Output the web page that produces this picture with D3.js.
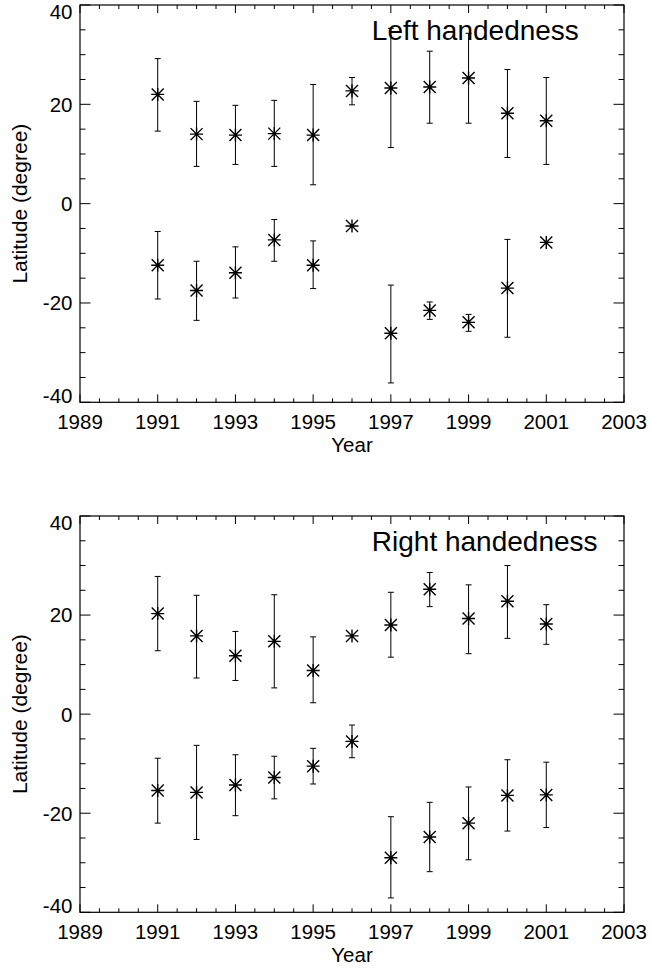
<!DOCTYPE html>
<html>
<head>
<meta charset="utf-8">
<script src="https://cdn.jsdelivr.net/npm/d3@7/dist/d3.min.js"></script>
<style>
  html, body { margin: 0; padding: 0; background: #fff; }
  svg { display: block; }
  text { font-family: "Liberation Sans", Arial, Helvetica, sans-serif; fill: #000; }
</style>
</head>
<body>
<svg id="chart" width="651" height="970"></svg>
<script>
// Observation years
const years = [1991, 1992, 1993, 1994, 1995, 1996, 1997, 1998, 1999, 2000, 2001];

// Left handedness: mean latitude and error-bar limits, northern hemisphere
const leftNorth   = [22.0, 14.0, 13.8, 14.1, 13.8, 22.7, 23.3, 23.5, 25.3, 18.2, 16.7];
const leftNorthHi = [29.2, 20.6, 19.8, 20.8, 24.0, 25.4, 35.3, 30.7, 34.3, 27.0, 25.4];
const leftNorthLo = [14.6,  7.5,  7.9,  7.5,  3.8, 19.9, 11.3, 16.2, 16.2,  9.3,  7.9];
// Left handedness, southern hemisphere
const leftSouth   = [-12.4, -17.5, -13.9,  -7.3, -12.4, -4.5, -26.1, -21.5, -23.9, -17.0, -7.8];
const leftSouthHi = [ -5.6, -11.6,  -8.7,  -3.2,  -7.5, -4.5, -16.4, -19.8, -22.3,  -7.2, -7.8];
const leftSouthLo = [-19.2, -23.5, -19.0, -11.6, -17.1, -4.5, -36.1, -23.3, -25.7, -26.9, -7.8];

// Right handedness, northern hemisphere
const rightNorth   = [20.3, 15.8, 11.8, 14.7,  8.8, 15.8, 18.0, 25.2, 19.3, 22.8, 18.2];
const rightNorthHi = [27.8, 24.0, 16.7, 24.1, 15.6, 15.8, 24.6, 28.6, 26.1, 30.0, 22.1];
const rightNorthLo = [12.8,  7.3,  6.8,  5.3,  2.3, 15.8, 11.5, 21.7, 12.2, 15.3, 14.1];
// Right handedness, southern hemisphere
const rightSouth   = [-15.4, -15.8, -14.3, -12.8, -10.5, -5.5, -29.0, -24.8, -22.0, -16.4, -16.3];
const rightSouthHi = [ -8.9,  -6.3,  -8.2,  -8.5,  -6.9, -2.2, -20.7, -17.8, -14.7,  -9.2,  -9.7];
const rightSouthLo = [-22.0, -25.3, -20.5, -17.1, -14.1, -8.8, -37.1, -31.8, -29.4, -23.6, -22.9];

// Axis ticks and labels
const xDomain = [1989, 2003];
const xMajorTicks = [1989, 1991, 1993, 1995, 1997, 1999, 2001, 2003];
const xMinorStep = 0.5;
const yDomain = [-40, 40];
const yMajorTicks = [-40, -20, 0, 20, 40];
const yMinorStep = 5;
const xTitle = "Year";
const yTitle = "Latitude (degree)";
const panelTitles = ["Left handedness", "Right handedness"];

const svg = d3.select("#chart");

const plotLeft = 80, plotRight = 624;
const panels = [
  { top: 5,   bottom: 402.3, title: panelTitles[0],
    series: [[leftNorth, leftNorthHi, leftNorthLo], [leftSouth, leftSouthHi, leftSouthLo]] },
  { top: 516, bottom: 912.3, title: panelTitles[1],
    series: [[rightNorth, rightNorthHi, rightNorthLo], [rightSouth, rightSouthHi, rightSouthLo]] }
];

const xMinorTicks = d3.range(xDomain[0], xDomain[1] + 1e-9, xMinorStep);
const yMinorTicks = d3.range(yDomain[0], yDomain[1] + 1e-9, yMinorStep);
// plain hyphen-minus for negative labels
const fmt = v => String(v);

panels.forEach(p => {
  const x = d3.scaleLinear().domain(xDomain).range([plotLeft, plotRight]);
  const y = d3.scaleLinear().domain(yDomain).range([p.bottom, p.top]);
  const g = svg.append("g");

  // Tick marks on all four sides, pointing inward
  const tickG = g.append("g").attr("stroke", "#000").attr("stroke-width", 1);
  xMinorTicks.forEach(v => {
    const major = xMajorTicks.includes(v);
    const len = major ? 8 : 4;
    const xx = x(v);
    tickG.append("line").attr("x1", xx).attr("x2", xx).attr("y1", p.bottom).attr("y2", p.bottom - len);
    tickG.append("line").attr("x1", xx).attr("x2", xx).attr("y1", p.top).attr("y2", p.top + len);
  });
  yMinorTicks.forEach(v => {
    const major = yMajorTicks.includes(v);
    const len = major ? 10.5 : 5.5;
    const yy = y(v);
    tickG.append("line").attr("x1", plotLeft).attr("x2", plotLeft + len).attr("y1", yy).attr("y2", yy);
    tickG.append("line").attr("x1", plotRight).attr("x2", plotRight - len).attr("y1", yy).attr("y2", yy);
  });

  // Frame
  g.append("rect")
    .attr("x", plotLeft).attr("y", p.top)
    .attr("width", plotRight - plotLeft).attr("height", p.bottom - p.top)
    .attr("fill", "none").attr("stroke", "#000").attr("stroke-width", 1.2);

  // Tick labels
  xMajorTicks.forEach(v => {
    g.append("text")
      .attr("x", x(v)).attr("y", p.bottom + 27)
      .attr("text-anchor", "middle")
      .attr("font-size", 20.5)
      .text(fmt(v));
  });
  yMajorTicks.forEach(v => {
    const yy = Math.max(p.top + 7, Math.min(p.bottom - 6.5, y(v)));
    g.append("text")
      .attr("x", plotLeft - 7.5).attr("y", yy)
      .attr("dy", "0.36em")
      .attr("text-anchor", "end")
      .attr("font-size", 20.5)
      .text(fmt(v));
  });

  // Axis titles
  g.append("text")
    .attr("x", (plotLeft + plotRight) / 2).attr("y", p.bottom + 50)
    .attr("text-anchor", "middle")
    .attr("font-size", 20.5)
    .text(xTitle);
  g.append("text")
    .attr("transform", `translate(26.5,${(p.top + p.bottom) / 2}) rotate(-90)`)
    .attr("text-anchor", "middle")
    .attr("font-size", 21)
    .text(yTitle);

  // Error bars and asterisk markers
  const markG = g.append("g").attr("stroke", "#000").attr("stroke-width", 1).attr("fill", "none");
  p.series.forEach(([mean, hi, lo]) => {
    years.forEach((yr, i) => {
      const cx = x(yr);
      if (hi[i] !== lo[i]) {
        const yHi = y(hi[i]), yLo = y(lo[i]);
        markG.append("line").attr("x1", cx).attr("x2", cx).attr("y1", yHi).attr("y2", yLo);
        markG.append("line").attr("x1", cx - 3).attr("x2", cx + 3).attr("y1", yHi).attr("y2", yHi);
        markG.append("line").attr("x1", cx - 3).attr("x2", cx + 3).attr("y1", yLo).attr("y2", yLo);
      }
      const cy = y(mean[i]);
      const path = d3.path();
      path.moveTo(cx - 6.5, cy); path.lineTo(cx + 6.5, cy);
      path.moveTo(cx, cy - 6.5); path.lineTo(cx, cy + 6.5);
      path.moveTo(cx - 6, cy - 6); path.lineTo(cx + 6, cy + 6);
      path.moveTo(cx - 6, cy + 6); path.lineTo(cx + 6, cy - 6);
      markG.append("path").attr("d", path.toString()).attr("stroke-width", 1.4);
    });
  });

  // Panel title
  g.append("text")
    .attr("x", x(1996.51)).attr("y", y(33))
    .attr("font-size", 28)
    .text(p.title);
});
</script>
</body>
</html>
